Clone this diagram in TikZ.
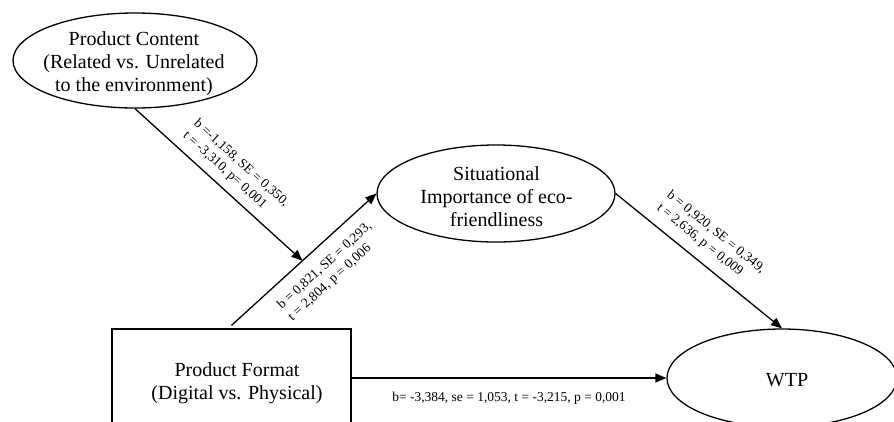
\documentclass[tikz,border=0pt]{standalone}
\usepackage{fontspec}
\setmainfont{Liberation Serif}
\usetikzlibrary{arrows.meta,shapes.geometric}
\begin{document}
\begin{tikzpicture}[x=1pt,y=-1pt,
  lbl/.style={font=\fontsize{13.5}{16}\selectfont, inner sep=0pt, align=left},
  maintxt/.style={font=\fontsize{20}{23}\selectfont, align=center, inner sep=0pt},
  shp/.style={draw, line width=1.3pt, inner sep=0pt},
  ln/.style={line width=1.3pt},
  arr/.style={line width=1.3pt, -{Triangle[length=11pt,width=9pt]}}]
\useasboundingbox (0,0) rectangle (894,421);
\clip (0,0) rectangle (894,421);
% shapes
\node[shp, ellipse, minimum width=244pt, minimum height=95pt] (pc) at (135,60.5) {};
\node[maintxt] (pct) at (134,64) {Product Content\\(Related vs. Unrelated\\to the environment)};
\node[shp, ellipse, minimum width=238pt, minimum height=97pt] (si) at (496,193.5) {};
\node[maintxt] (sit) at (496.5,197) {Situational\\Importance of eco-\\friendliness};
\node[shp, ellipse, minimum width=230pt, minimum height=98pt] (wtp) at (782,378) {};
\node[maintxt] (wtpt) at (787,380) {WTP};
\node[shp, rectangle, minimum width=239pt, minimum height=110pt] (pf) at (231.5,384) {};
\node[maintxt] (pft) at (237,383) {Product Format\\(Digital vs. Physical)};
% connectors
\draw[arr] ([yshift=3pt]pf.north) -- (si.west)
  coordinate[pos=0.49] (m)
  node[lbl, sloped, below=12pt, pos=0.557] (l2) {b = 0,821, SE = 0,293,\\t = 2,804, p = 0,006};
\draw[arr] (pc.south) -- (m)
  node[lbl, sloped, above=8pt, pos=0.51] (l1) {b =-1,158, SE = 0,350,\\t = -3,310, p= 0,001};
\draw[arr] (si.east) -- (wtp.north)
  node[lbl, sloped, above=10pt, pos=0.478] (l3) {b = 0,920, SE = 0,349,\\t = 2,636, p = 0,009};
\draw[arr] (pf.east |- wtp.west) -- (wtp.west)
  node[lbl, below=13pt, pos=0.5] (l4) {b= -3,384, se = 1,053, t = -3,215, p = 0,001};
\end{tikzpicture}
\end{document}
